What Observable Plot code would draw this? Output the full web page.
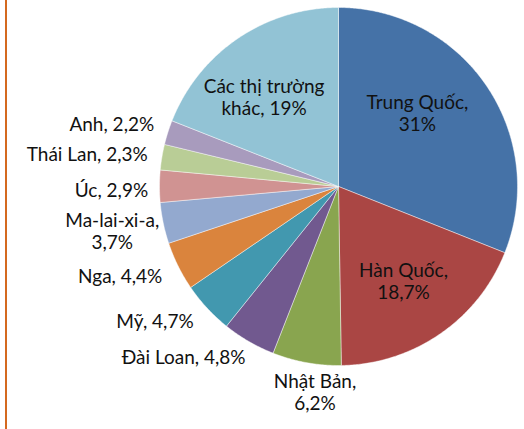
<!DOCTYPE html>
<html><head><meta charset="utf-8">
<script src="https://cdn.jsdelivr.net/npm/d3@7"></script>
<script src="https://cdn.jsdelivr.net/npm/@observablehq/plot@0.6"></script>
<style>
html,body{margin:0;padding:0;background:#fff;}
#wrap{position:relative;width:524px;height:429px;overflow:hidden;}
#edge{position:absolute;left:5px;top:0;width:2px;height:429px;background:#D4691F;}
#chart{position:absolute;left:0;top:0;}
</style></head><body><div id="wrap"><div id="chart"></div><div id="edge"></div></div>
<script>
// ---- data ----
const names = ["Trung Quốc","Hàn Quốc","Nhật Bản","Đài Loan","Mỹ","Nga","Ma-lai-xi-a","Úc","Thái Lan","Anh","Các thị trường khác"];
const shares = [31, 18.7, 6.2, 4.8, 4.7, 4.4, 3.7, 2.9, 2.3, 2.2, 19];
const labelTexts = ["Trung Quốc,\n31%","Hàn Quốc,\n18,7%","Nhật Bản,\n6,2%","Đài Loan, 4,8%","Mỹ, 4,7%","Nga, 4,4%","Ma-lai-xi-a,\n3,7%","Úc, 2,9%","Thái Lan, 2,3%","Anh, 2,2%","Các thị trường\nkhác, 19%"];
const colors = ["#4572A7","#AA4644","#89A54F","#71598F","#4298AF","#DA843D","#93A9CF","#D09392","#B9CD96","#A89BBD","#92C3D5"];

// ---- layout (styles / placement) ----
const W = 524, H = 429, CX = 338, CY = 186, R = 179;
const labelAnchor = ["middle","middle","middle","end","end","end","middle","end","end","end","middle"];
const labelK =      [0.6, 0.6, 1.08, 1.08, 1.08, 1.08, 1.08, 1.08, 1.08, 1.08, 0.6];
const labelNudge =  [[-10,-13],[4,6],[11,15],[4,3],[-3,3],[-3,3],[-37,5],[3,4],[0,-1],[0,-4],[-14,-1]];
const FS = 19;

const data = names.map((n, i) => ({name: n, share: shares[i], label: labelTexts[i], i}));
const arcs = d3.pie().sort(null).value(d => d.share)(data);

const wedgePts = [];
for (const a of arcs) {
  const n = Math.max(2, Math.ceil((a.endAngle - a.startAngle) / (Math.PI / 360)) + 1);
  wedgePts.push({name: a.data.name, x: 0, y: 0});
  for (let k = 0; k < n; k++) {
    const t = a.startAngle + (a.endAngle - a.startAngle) * k / (n - 1);
    wedgePts.push({name: a.data.name, x: Math.sin(t), y: Math.cos(t)});
  }
  wedgePts.push({name: a.data.name, x: 0, y: 0});
}

const labels = arcs.map(a => {
  const i = a.data.i;
  const mid = (a.startAngle + a.endAngle) / 2;
  const k = labelK[i];
  return {
    text: a.data.label,
    anchor: labelAnchor[i],
    x: k * Math.sin(mid) + labelNudge[i][0] / R,
    y: k * Math.cos(mid) - labelNudge[i][1] / R
  };
});

const textOpts = {x: "x", y: "y", text: "text", lineAnchor: "middle", fontSize: FS, lineHeight: 1.16, fill: "#111", fontFamily: "Lato"};

const chart = Plot.plot({
  width: W, height: H,
  margin: 0, marginTop: 0, marginRight: 0, marginBottom: 0, marginLeft: 0,
  x: {domain: [-CX / R, (W - CX) / R], range: [0, W], axis: null},
  y: {domain: [-(H - CY) / R, CY / R], range: [H, 0], axis: null},
  color: {type: "ordinal", domain: names, range: colors},
  style: {fontFamily: "Lato", background: "transparent"},
  marks: [
    Plot.line(wedgePts, {x: "x", y: "y", z: "name", fill: "name", stroke: "#ffffff", strokeWidth: 0.8, strokeOpacity: 0.55, strokeLinejoin: "round", curve: "linear"}),
    Plot.text(labels.filter(d => d.anchor === "middle"), {...textOpts, textAnchor: "middle"}),
    Plot.text(labels.filter(d => d.anchor === "end"), {...textOpts, textAnchor: "end"})
  ]
});
document.getElementById("chart").appendChild(chart);
</script>
</body></html>
